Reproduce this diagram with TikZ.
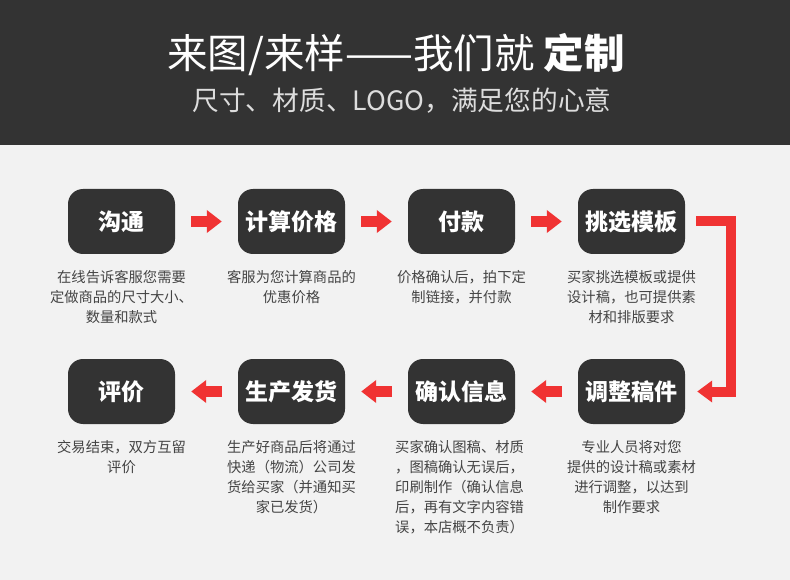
\documentclass[tikz,border=0pt]{standalone}
\usepackage{fontspec}
\setmainfont{Noto Sans CJK SC}
\usetikzlibrary{arrows.meta}
\definecolor{hdr}{HTML}{333333}
\definecolor{bg}{HTML}{F2F2F2}
\definecolor{boxc}{HTML}{333333}
\definecolor{redc}{HTML}{F03333}
\definecolor{desc}{HTML}{444444}
\definecolor{subc}{HTML}{DDDDDD}
\begin{document}
\begin{tikzpicture}[x=1pt,y=-1pt,
  stepbox/.style={fill=boxc,rounded corners=15pt,minimum width=107pt,minimum height=65pt,inner sep=0pt,text=white,font=\fontsize{23}{23}\selectfont\bfseries},
  desctext/.style={anchor=north,inner sep=0pt,align=center,text=desc,font=\fontsize{14.3}{20}\selectfont},
  redarrow/.style={draw=redc,line width=11pt,-{Triangle[length=15pt,width=22pt]}},
  redpath/.style={draw=redc,line width=10pt,line join=miter,-{Triangle[length=15pt,width=21pt]}}]
\useasboundingbox (0,0) rectangle (790,580);
\fill[bg] (0,0) rectangle (790,580);
\fill[hdr] (0,0) rectangle (790,145);
\node[text=white,inner sep=0pt,font=\fontsize{40.5}{40.5}\selectfont] (title) at (396,55) {来图/来样——我们就 {\bfseries 定制}};
\node[text=subc,inner sep=0pt,font=\fontsize{26.7}{26.7}\selectfont] (sub) at (402,101) {尺寸、材质、LOGO，满足您的心意};
% row 1
\node[stepbox] (b1) at (121.5,221.5) {沟通};
\node[stepbox] (b2) at (291.5,221.5) {计算价格};
\node[stepbox] (b3) at (461.5,221.5) {付款};
\node[stepbox] (b4) at (631.5,221.5) {挑选模板};
% row 2
\node[stepbox] (b5) at (631.5,391.5) {调整稿件};
\node[stepbox] (b6) at (461.5,391.5) {确认信息};
\node[stepbox] (b7) at (291.5,391.5) {生产发货};
\node[stepbox] (b8) at (121.5,391.5) {评价};
% descriptions
\node[desctext] (d1) at (121.5,270) {在线告诉客服您需要\\定做商品的尺寸大小、\\数量和款式};
\node[desctext] (d2) at (291.5,270) {客服为您计算商品的\\优惠价格};
\node[desctext] (d3) at (461.5,270) {价格确认后，拍下定\\制链接，并付款};
\node[desctext] (d4) at (631.5,270) {买家挑选模板或提供\\设计稿，也可提供素\\材和排版要求};
\node[desctext] (d5) at (631.5,440) {专业人员将对您\\提供的设计稿或素材\\进行调整，以达到\\制作要求};
\node[desctext,anchor=north west,align=left] (d6) at (395,440) {买家确认图稿、材质\\，图稿确认无误后，\\印刷制作（确认信息\\后，再有文字内容错\\误，本店概不负责）};
\node[desctext] (d7) at (291.5,440) {生产好商品后将通过\\快递（物流）公司发\\货给买家（并通知买\\家已发货）};
\node[desctext] (d8) at (121.5,440) {交易结束，双方互留\\评价};
% arrows
\draw[redarrow] ([xshift=16pt]b1.east) -- ([xshift=-16pt]b2.west);
\draw[redarrow] ([xshift=16pt]b2.east) -- ([xshift=-16pt]b3.west);
\draw[redarrow] ([xshift=16pt]b3.east) -- ([xshift=-16pt]b4.west);
\coordinate (turn) at (730.5,391.5);
\draw[redpath] ([xshift=11pt]b4.east) -| (turn) -- ([xshift=12pt]b5.east);
\draw[redarrow] ([xshift=-16pt]b5.west) -- ([xshift=16pt]b6.east);
\draw[redarrow] ([xshift=-16pt]b6.west) -- ([xshift=16pt]b7.east);
\draw[redarrow] ([xshift=-16pt]b7.west) -- ([xshift=16pt]b8.east);
\end{tikzpicture}
\end{document}
